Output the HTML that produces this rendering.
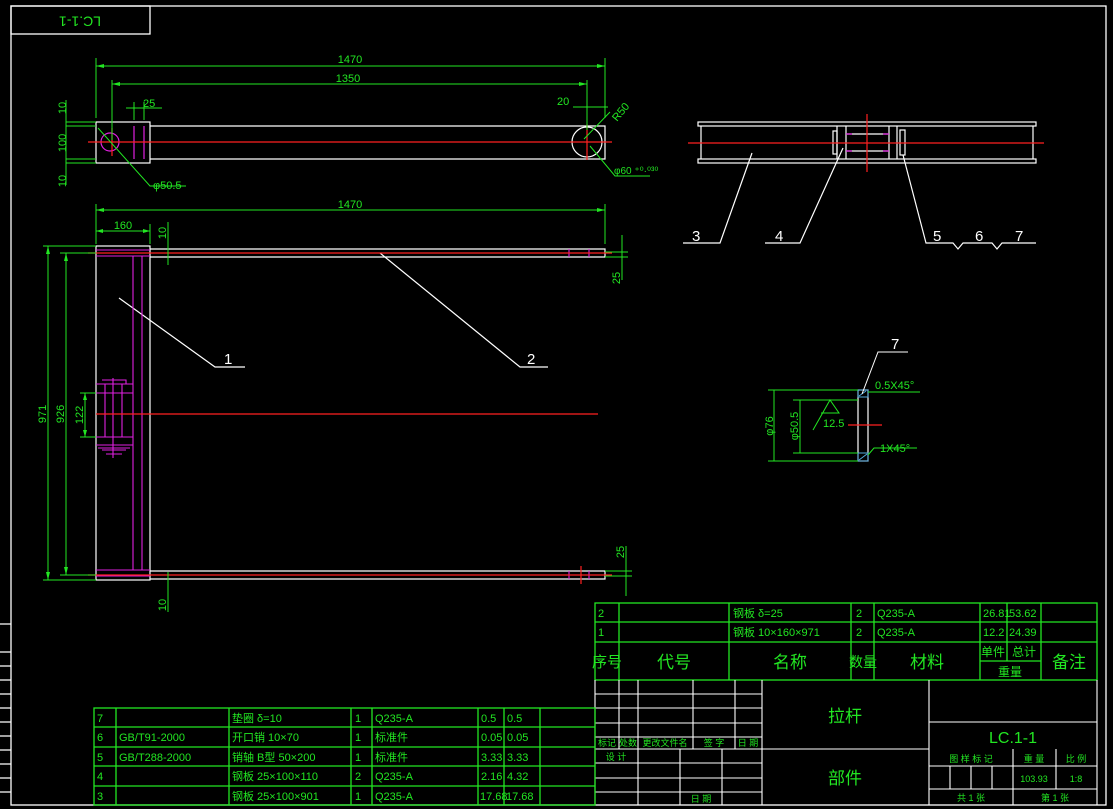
<!DOCTYPE html>
<html><head><meta charset="utf-8"><style>
html,body{margin:0;padding:0;background:#000;}
svg{display:block;}
text{font-family:"Liberation Sans","Noto Sans CJK SC",sans-serif;}
.g{fill:#22e622;font-size:11px;}
.gc{fill:#22e622;font-size:13px;font-family:"Liberation Sans","Noto Sans CJK SC",sans-serif;}
.w{fill:#fff;font-size:15px;}
</style></head><body>
<svg width="1113" height="809" viewBox="0 0 1113 809" xmlns="http://www.w3.org/2000/svg">
<rect width="1113" height="809" fill="#000"/>
<!-- border -->
<g stroke="#fff" stroke-width="1.3" fill="none">
<rect x="11" y="6" width="1095" height="799"/>
<rect x="11" y="6" width="139" height="28"/>
<path d="M0 624H11M0 652H11M0 666H11M0 680H11M0 694H11M0 708H11M0 722H11M0 736H11M0 750H11M0 764H11M0 778H11M0 792H11"/>
</g>
<text transform="translate(80,20) rotate(180)" text-anchor="middle" dominant-baseline="middle" class="g" style="font-size:14px">LC.1-1</text>

<!-- TOP VIEW -->
<g fill="none">
<g stroke="#fff" stroke-width="1.2">
<rect x="96" y="122" width="54" height="41"/>
<path d="M150 126H605V159H150"/>
<circle cx="587" cy="142" r="15"/>
</g>
<g stroke="#e020e0" stroke-width="1.2">
<circle cx="110" cy="142" r="9"/>
<path d="M134 126V159M144 126V159"/>
</g>
<g stroke="#ff2020" stroke-width="1.2">
<path d="M88 142H612M112 128V156M587 124V160"/>
</g>
<g stroke="#22e622" stroke-width="1">
<path d="M96 118V58M605 118V58M96 66H605M112 140V80M587 130V80M112 84H587"/>
<path d="M126 108H162M134 102V120M144 102V120M573 107H608M605 102V116"/>
<path d="M66 126H96M66 159H96M66 122H96M66 163H96M66 100V185"/>
<path d="M98 128L150 186H186M584 139L610 112M590 146L615 176H650"/>
</g>
<g fill="#22e622">
<path d="M96 66l8-2v4zM605 66l-8-2v4zM112 84l8-2v4zM587 84l-8-2v4z"/>
</g>
</g>
<text x="350" y="63" class="g" text-anchor="middle">1470</text>
<text x="348" y="82" class="g" text-anchor="middle">1350</text>
<text x="143" y="107" class="g">25</text>
<text x="557" y="105" class="g">20</text>
<text transform="translate(617,122) rotate(-50)" class="g">R50</text>
<text x="153" y="189" class="g">φ50.5</text>
<text x="614" y="174" class="g" style="font-size:10px">φ60 ⁺⁰·⁰³⁰</text>
<text transform="translate(66,108) rotate(-90)" class="g" text-anchor="middle">10</text>
<text transform="translate(66,143) rotate(-90)" class="g" text-anchor="middle">100</text>
<text transform="translate(66,181) rotate(-90)" class="g" text-anchor="middle">10</text>

<!-- SIDE VIEW -->
<g fill="none">
<g stroke="#fff" stroke-width="1.2">
<rect x="698" y="122" width="338" height="4"/>
<rect x="698" y="159" width="338" height="4"/>
<path d="M701 126V159M1033 126V159M837 126V159M846 126V159M889 126V159M897 126V159M846 134H889M846 151H889"/>
<rect x="833" y="131" width="4" height="23"/>
<rect x="900" y="130" width="5" height="25"/>
<path d="M752 153L720 243H683M843 148L800 243H765M903 155L926 243H953L958 249L963 243H992L997 249L1002 243H1036"/>
</g>
<g stroke="#e020e0" stroke-width="1.2"><path d="M846 134H852M846 151H852M883 134H889M883 151H889"/></g>
<g stroke="#ff2020" stroke-width="1.2"><path d="M688 143H1044M867 114V172"/></g>
</g>
<text x="692" y="241" class="w">3</text>
<text x="775" y="241" class="w">4</text>
<text x="933" y="241" class="w">5</text>
<text x="975" y="241" class="w">6</text>
<text x="1015" y="241" class="w">7</text>

<!-- MAIN VIEW -->
<g fill="none">
<g stroke="#fff" stroke-width="1.2">
<rect x="96" y="246" width="54" height="334"/>
<path d="M150 249H605V257H150M150 571H605V579H150"/>
<path d="M119 298L215 367H245M380 253L520 367H548"/>
</g>
<g stroke="#e020e0" stroke-width="1.1">
<path d="M96 250H150M96 256H150M96 570H150M96 576H150M133 256V570M142 256V570"/>
<path d="M96 384H133M96 393H133M96 437H133M96 445H133M105 384V437M113 378V458M122 384V437M102 380H126V384M102 450H126M106 454H122M98 448H130"/>
<path d="M569 249V257M589 249V257M569 571V579M589 571V579"/>
</g>
<g stroke="#ff2020" stroke-width="1.2">
<path d="M88 253H612M88 575H612M96 414H598M581 566V584"/>
</g>
<g stroke="#22e622" stroke-width="1">
<path d="M96 244V204M605 244V204M96 210H605M150 244V224M96 231H150M168 222V265"/>
<path d="M43 246H96M43 580H96M48 246V580M60 253H96M60 575H96M66 253V575M80 393H96M80 437H96M85 393V437"/>
<path d="M605 252H628M605 257H628M622 235V280M605 571H632M605 576H632M626 546V596M168 572V612"/>
</g>
<g fill="#22e622">
<path d="M96 210l8-2v4zM605 210l-8-2v4zM96 231l7-2v4zM150 231l-7-2v4zM48 246l-2 8h4zM48 580l-2-8h4zM66 253l-2 8h4zM66 575l-2-8h4zM85 393l-2 7h4zM85 437l-2-7h4z"/>
</g>
</g>
<text x="350" y="208" class="g" text-anchor="middle">1470</text>
<text x="123" y="229" class="g" text-anchor="middle">160</text>
<text transform="translate(166,233) rotate(-90)" class="g" text-anchor="middle">10</text>
<text transform="translate(46,414) rotate(-90)" class="g" text-anchor="middle">971</text>
<text transform="translate(64,414) rotate(-90)" class="g" text-anchor="middle">926</text>
<text transform="translate(83,415) rotate(-90)" class="g" text-anchor="middle">122</text>
<text transform="translate(620,278) rotate(-90)" class="g" text-anchor="middle">25</text>
<text transform="translate(624,552) rotate(-90)" class="g" text-anchor="middle">25</text>
<text transform="translate(166,605) rotate(-90)" class="g" text-anchor="middle">10</text>
<text x="224" y="364" class="w">1</text>
<text x="527" y="364" class="w">2</text>

<!-- WASHER DETAIL -->
<g fill="none">
<rect x="858" y="390" width="10" height="71" stroke="#fff" stroke-width="1.2"/>
<g stroke="#5ad" stroke-width="1"><rect x="858" y="390" width="10" height="7"/><rect x="858" y="453" width="10" height="8"/><path d="M859 396L866 391M859 460L867 454"/></g>
<g stroke="#fff" stroke-width="1"><path d="M862 394L878 352H908"/></g>
<g stroke="#22e622" stroke-width="1">
<path d="M768 390H858M768 461H858M774 390V461M793 400H858M793 453H858M800 400V453M868 392L874 392H920M868 455L874 448H917M813 430L830 400L839 413H821"/>
</g>
<path d="M848 425H882" stroke="#ff2020" stroke-width="1.2"/>
</g>
<text x="891" y="349" class="w">7</text>
<text x="875" y="389" class="g">0.5X45°</text>
<text x="880" y="452" class="g">1X45°</text>
<text x="823" y="427" class="g">12.5</text>
<text transform="translate(773,426) rotate(-90)" class="g" text-anchor="middle">φ76</text>
<text transform="translate(798,426) rotate(-90)" class="g" text-anchor="middle">φ50.5</text>

<!-- TITLE BLOCK -->
<g fill="none" stroke="#22e622" stroke-width="1.3">
<rect x="595" y="603" width="502" height="77"/>
<path d="M595 622H1097M595 642H1097M980 661H1041"/>
<path d="M619 603V680M729 603V680M851 603V680M874 603V680M980 603V680M1007 603V661M1041 603V680"/>
</g>
<g fill="none" stroke="#fff" stroke-width="1.1">
<path d="M595 680V805H1097V680"/>
<path d="M595 694H762M595 708H762M595 723H762M595 737H762M595 749H929M595 763H762M595 778H762M595 792H762"/>
<path d="M619 680V749M638 680V805M693 680V749M735 680V749M680 749V805M722 749V805M762 680V805M929 680V805"/>
<path d="M929 722H1097M929 766H1097M929 789H1097M1013 749V805M1056 749V789M950 766V789M971 766V789M992 766V789"/>
</g>
<g class="g" style="font-size:11px">
<text x="598" y="617">2</text><text x="733" y="617">钢板 δ=25</text><text x="856" y="617">2</text><text x="877" y="617">Q235-A</text><text x="983" y="617">26.81</text><text x="1009" y="617">53.62</text>
<text x="598" y="636">1</text><text x="733" y="636">钢板 10×160×971</text><text x="856" y="636">2</text><text x="877" y="636">Q235-A</text><text x="983" y="636">12.2</text><text x="1009" y="636">24.39</text>
</g>
<g class="gc" style="font-size:17px" text-anchor="middle">
<text x="607" y="667" style="font-size:15px">序号</text><text x="674" y="668">代号</text><text x="790" y="668">名称</text><text x="863" y="667" style="font-size:14px">数量</text><text x="927" y="668">材料</text><text x="1069" y="668">备注</text>
<text x="993" y="656" style="font-size:12px">单件</text><text x="1024" y="656" style="font-size:12px">总计</text><text x="1010" y="676" style="font-size:12px">重量</text>
<text x="845" y="722">拉杆</text><text x="845" y="784">部件</text>
<text x="1013" y="743" style="font-size:16px">LC.1-1</text>
</g>
<g class="gc" style="font-size:9px" text-anchor="middle">
<text x="607" y="746">标记</text><text x="628" y="746">处数</text><text x="665" y="746">更改文件名</text><text x="714" y="746">签 字</text><text x="748" y="746">日 期</text>
<text x="616" y="760">设 计</text><text x="701" y="802">日 期</text>
<text x="971" y="762">图 样 标 记</text><text x="1034" y="762">重 量</text><text x="1076" y="762">比 例</text>
<text x="1034" y="782">103.93</text><text x="1076" y="782">1:8</text>
<text x="971" y="801">共 1 张</text><text x="1055" y="801">第 1 张</text>
</g>

<!-- PARTS TABLE lower -->
<g fill="none" stroke="#22e622" stroke-width="1.3">
<rect x="94" y="708" width="501" height="97"/>
<path d="M94 727H595M94 747H595M94 766H595M94 786H595"/>
<path d="M116 708V805M229 708V805M351 708V805M372 708V805M478 708V805M504 708V805M540 708V805"/>
</g>
<g class="g" style="font-size:11px">
<text x="97" y="722">7</text><text x="232" y="722">垫圈 δ=10</text><text x="355" y="722">1</text><text x="375" y="722">Q235-A</text><text x="481" y="722">0.5</text><text x="507" y="722">0.5</text>
<text x="97" y="741">6</text><text x="119" y="741">GB/T91-2000</text><text x="232" y="741">开口销 10×70</text><text x="355" y="741">1</text><text x="375" y="741">标准件</text><text x="481" y="741">0.05</text><text x="507" y="741">0.05</text>
<text x="97" y="761">5</text><text x="119" y="761">GB/T288-2000</text><text x="232" y="761">销轴 B型 50×200</text><text x="355" y="761">1</text><text x="375" y="761">标准件</text><text x="481" y="761">3.33</text><text x="507" y="761">3.33</text>
<text x="97" y="780">4</text><text x="232" y="780">钢板 25×100×110</text><text x="355" y="780">2</text><text x="375" y="780">Q235-A</text><text x="481" y="780">2.16</text><text x="507" y="780">4.32</text>
<text x="97" y="800">3</text><text x="232" y="800">钢板 25×100×901</text><text x="355" y="800">1</text><text x="375" y="800">Q235-A</text><text x="480" y="800">17.68</text><text x="506" y="800">17.68</text>
</g>
</svg>
</body></html>
